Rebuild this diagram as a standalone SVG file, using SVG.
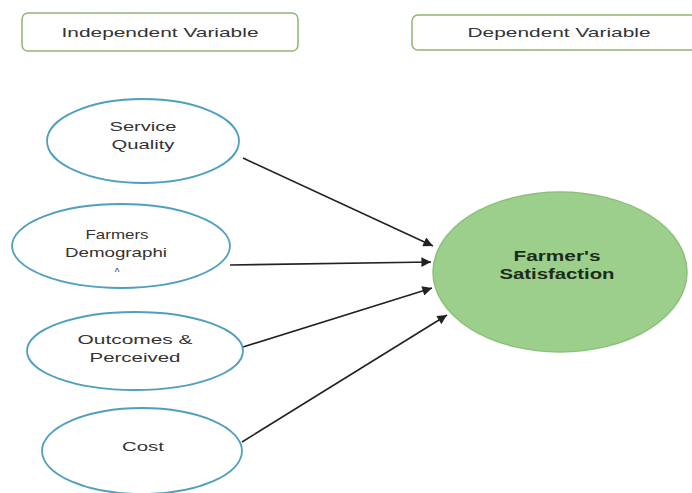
<svg xmlns="http://www.w3.org/2000/svg" width="692" height="493" viewBox="0 0 692 493">
<style>
.hdr{fill:#ffffff;stroke:#8fb772;stroke-width:1.5}
.iv{fill:#ffffff;stroke:#4f9fc0;stroke-width:1.8}
.dv{fill:#9ccf8b;stroke:#8cc07a;stroke-width:1.5}
.t{font-family:"Liberation Sans",Arial,sans-serif;font-size:13.5px;fill:#333333;text-anchor:middle}
.tb{font-family:"Liberation Sans",Arial,sans-serif;font-size:14px;font-weight:bold;fill:#1d2b1a;text-anchor:middle}
.c{stroke:#222222;stroke-width:1.6;fill:none;marker-end:url(#ah)}
</style>
<defs>
<marker id="ah" viewBox="0 0 10 10" refX="10" refY="5" markerWidth="7" markerHeight="6" markerUnits="strokeWidth" orient="auto">
<path d="M0,0 L10,5 L0,10 z" fill="#222222"/>
</marker>
</defs>
<rect width="692" height="493" fill="#ffffff"/>
<g id="independent-header">
<rect class="hdr" x="22" y="13" width="276" height="38" rx="6"/>
<text class="t" x="160" y="37" textLength="197" lengthAdjust="spacingAndGlyphs">Independent Variable</text>
</g>
<g id="dependent-header">
<rect class="hdr" x="412" y="15" width="290" height="35" rx="6"/>
<text class="t" x="559" y="37" textLength="183" lengthAdjust="spacingAndGlyphs">Dependent Variable</text>
</g>
<g id="connectors">
<line class="c" x1="243" y1="158" x2="433" y2="246"/>
<line class="c" x1="230" y1="265" x2="431" y2="262"/>
<line class="c" x1="243" y1="347" x2="432" y2="288"/>
<line class="c" x1="242" y1="442" x2="447" y2="315"/>
</g>
<g id="service-quality">
<ellipse class="iv" cx="143" cy="141" rx="96" ry="42"/>
<text class="t" x="143" y="131" textLength="67" lengthAdjust="spacingAndGlyphs">Service</text>
<text class="t" x="143" y="149" textLength="63" lengthAdjust="spacingAndGlyphs">Quality</text>
</g>
<g id="farmers-demographic">
<ellipse class="iv" cx="121" cy="246" rx="109" ry="42"/>
<text class="t" x="117" y="239" textLength="63" lengthAdjust="spacingAndGlyphs">Farmers</text>
<text class="t" x="116" y="257" textLength="102" lengthAdjust="spacingAndGlyphs">Demographi</text>
<text class="t" x="117" y="276" style="font-size:10px">^</text>
</g>
<g id="outcomes-perceived">
<ellipse class="iv" cx="135" cy="351" rx="108" ry="39"/>
<text class="t" x="135" y="344" textLength="115" lengthAdjust="spacingAndGlyphs">Outcomes &amp;</text>
<text class="t" x="135" y="362" textLength="91" lengthAdjust="spacingAndGlyphs">Perceived</text>
</g>
<g id="cost">
<ellipse class="iv" cx="142" cy="451" rx="100" ry="43"/>
<text class="t" x="143" y="451" textLength="42" lengthAdjust="spacingAndGlyphs">Cost</text>
</g>
<g id="farmers-satisfaction">
<ellipse class="dv" cx="560" cy="272" rx="127" ry="80"/>
<text class="tb" x="557" y="261" textLength="87" lengthAdjust="spacingAndGlyphs">Farmer's</text>
<text class="tb" x="557" y="279" textLength="115" lengthAdjust="spacingAndGlyphs">Satisfaction</text>
</g>
</svg>
